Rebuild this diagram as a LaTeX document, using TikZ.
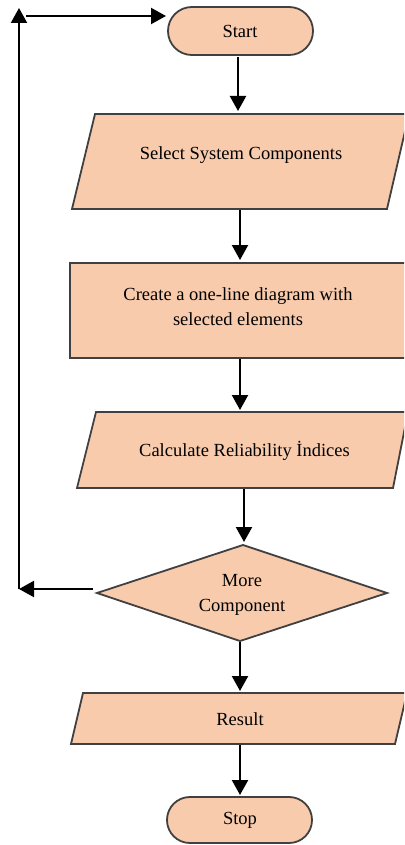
\documentclass[tikz,border=0pt]{standalone}
\usepackage{fontspec}
\setmainfont{Liberation Serif}
\usetikzlibrary{arrows.meta}
\definecolor{peach}{HTML}{F8CBAD}
\definecolor{edgegray}{HTML}{404040}
\begin{document}
\begin{tikzpicture}[x=1pt,y=-1pt,
  shapebox/.style={fill=peach,draw=edgegray,line width=1.8pt,line join=miter},
  flow/.style={line width=2.2pt,-{Triangle[length=15pt,width=16pt]}},
  txt/.style={font=\fontsize{18.5}{25}\selectfont,align=center,inner sep=0pt}]
\useasboundingbox (0,0) rectangle (404,845);
\clip (0,0) rectangle (404,845);
\fill[white] (0,0) rectangle (404,845);
% shapes
\draw[shapebox,rounded corners=23.9pt] (168,7) rectangle (313,55);
\draw[shapebox] (95,114) -- (409,114) -- (387,209) -- (72,209) -- cycle;
\draw[shapebox] (70,263) rectangle (420,358);
\draw[shapebox] (96,412) -- (408,412) -- (393,488) -- (77,488) -- cycle;
\draw[shapebox] (243,545) -- (387,593) -- (240,641) -- (97,593) -- cycle;
\draw[shapebox] (83,693) -- (407,693) -- (395,744) -- (71,744) -- cycle;
\draw[shapebox,rounded corners=22.9pt] (167,797) rectangle (312,843);
% texts
\node[txt] (start) at (240,31) {Start};
\node[txt] (select) at (241,155) {Select System Components};
\node[txt] (create) at (238,307) {Create a one-line diagram with\\selected elements};
\node[txt] (calc) at (244.5,451) {Calculate Reliability İndices};
\node[txt] (more) at (242,595) {More\\Component};
\node[txt] (result) at (240,719) {Result};
\node[txt] (stop) at (240,820) {Stop};
% connector end points
\coordinate (a1) at (238,57);  \coordinate (a2) at (238,111);
\coordinate (b1) at (240,210); \coordinate (b2) at (240,260);
\coordinate (c1) at (240,359); \coordinate (c2) at (240,410);
\coordinate (d1) at (244,489); \coordinate (d2) at (244,542);
\coordinate (e1) at (240,642); \coordinate (e2) at (240,691);
\coordinate (f1) at (240,745); \coordinate (f2) at (240,795);
\coordinate (g1) at (93,589);  \coordinate (g2) at (19,589);
\coordinate (h1) at (19,589);  \coordinate (h2) at (19,8);
\coordinate (i1) at (26,16);   \coordinate (i2) at (166,16);
% connectors
\draw[flow] (a1) -- (a2);
\draw[flow] (b1) -- (b2);
\draw[flow] (c1) -- (c2);
\draw[flow] (d1) -- (d2);
\draw[flow] (e1) -- (e2);
\draw[flow] (f1) -- (f2);
\draw[flow] (g1) -- (g2);
\draw[flow] (h1) -- (h2);
\draw[flow] (i1) -- (i2);
\end{tikzpicture}
\end{document}
